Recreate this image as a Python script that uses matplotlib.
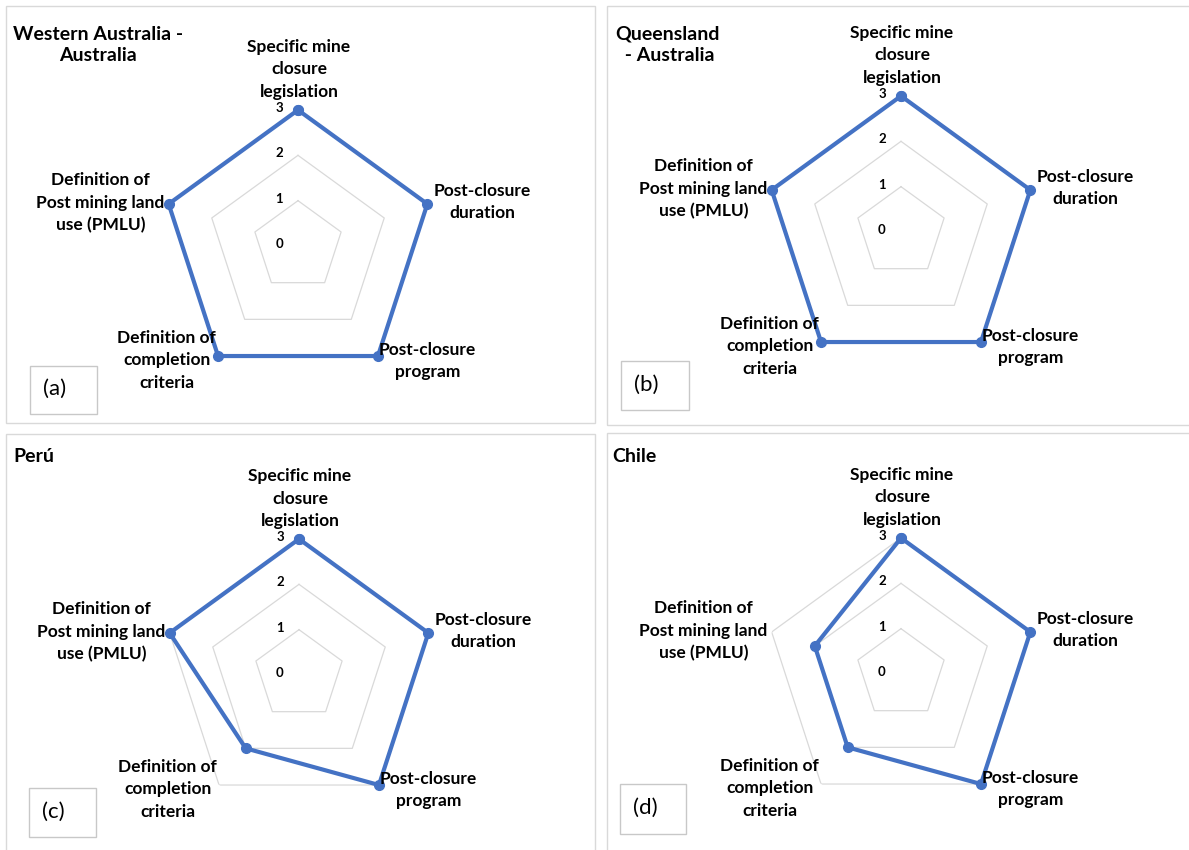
import numpy as np
import matplotlib
matplotlib.use("Agg")
import matplotlib.pyplot as plt
from matplotlib.patches import Rectangle

# ---------------- data ----------------
categories = [
    "Specific mine\nclosure\nlegislation",
    "Post-closure\nduration",
    "Post-closure\nprogram",
    "Definition of\ncompletion\ncriteria",
    "Definition of\nPost mining land\nuse (PMLU)",
]
western_australia = [3, 3, 3, 3, 3]
queensland = [3, 3, 3, 3, 3]
peru = [3, 3, 3, 2, 3]
chile = [3, 3, 3, 2, 2]
radial_ticks = [0, 1, 2, 3]
titles = ["Western Australia -\nAustralia", "Queensland\n - Australia", "Perú", "Chile"]
tags = ["(a)", "(b)", "(c)", "(d)"]
series = [western_australia, queensland, peru, chile]

# ---------------- style / layout ----------------
W, H = 1189, 850
DPI = 100
plt.rcParams['font.family'] = ['Lato', 'DejaVu Sans']
fig = plt.figure(figsize=(W / DPI, H / DPI), dpi=DPI)

LINE_C = '#4472C4'
GRID_C = '#d9d9d9'
BORDER_C = '#d9d9d9'

def fx(px):
    return px / W

def fy(py):
    return 1 - py / H

# panel frames (pixel coords: x0, y0, x1, y1)
panels = [(6, 6, 595, 423), (607, 6, 1200, 425), (6, 434, 595, 860), (607, 433, 1200, 860)]
centers = [(298, 246), (901, 232), (299, 675), (901, 674)]
R = 136
title_pos = [(98, 45, 'center'), (667, 45, 'center'), (13, 456, 'left'), (612, 456, 'left')]
tag_boxes = [(30, 366, 97, 414), (621, 361, 689, 410), (29, 788, 96, 837), (620, 784, 686, 834)]

# label placement relative to outer vertex: (ha, va, dx_px, dy_px) (dy positive = down)
label_style = [
    ('center', 'bottom', 1, -10),
    ('left', 'center', 6, -2),
    ('left', 'center', 1, 5),
    ('right', 'center', -2, 4),
    ('right', 'center', -4, -1),
]

pt = 72.0 / DPI  # px -> points

for i in range(4):
    x0, y0, x1, y1 = panels[i]
    fig.patches.append(Rectangle((fx(x0), fy(y1)), fx(x1 - x0), (y1 - y0) / H,
                                 transform=fig.transFigure, fill=False,
                                 edgecolor=BORDER_C, linewidth=1.0))
    bx0, by0, bx1, by1 = tag_boxes[i]
    fig.patches.append(Rectangle((fx(bx0), fy(by1)), fx(bx1 - bx0), (by1 - by0) / H,
                                 transform=fig.transFigure, fill=False,
                                 edgecolor='#c8c8c8', linewidth=1.0))
    fig.text(fx(bx0 + 13), fy((by0 + by1) / 2 - 1), tags[i], ha='left', va='center',
             fontsize=16, color='black')
    tx, ty, tha = title_pos[i]
    fig.text(fx(tx), fy(ty), titles[i], ha=tha, va='center', multialignment='center',
             fontsize=14, fontweight='bold', color='black', linespacing=1.35)

    cx, cy = centers[i]
    ax = fig.add_axes([fx(cx - R), fy(cy + R), 2 * R / W, 2 * R / H], projection='polar')
    ax.set_theta_offset(np.pi / 2)
    ax.set_theta_direction(-1)
    ax.set_ylim(0, max(radial_ticks))
    ax.grid(False)
    ax.spines['polar'].set_visible(False)
    ax.set_xticks([])
    ax.set_yticks([])
    ax.patch.set_alpha(0)

    n = len(categories)
    angles = np.linspace(0, 2 * np.pi, n, endpoint=False)
    closed = np.concatenate([angles, angles[:1]])
    for t in radial_ticks[1:]:
        ax.plot(closed, [t] * (n + 1), color=GRID_C, linewidth=0.9, zorder=1)
    for t in radial_ticks:
        ax.annotate(str(t), xy=(0, t), xytext=(-19 * pt, 2 * pt), textcoords='offset points',
                    ha='center', va='center', fontsize=9.5, fontweight='bold', color='black')

    vals = list(series[i]) + [series[i][0]]
    ax.plot(closed, vals, color=LINE_C, linewidth=3.0, marker='o', markersize=7,
            zorder=3, clip_on=False)

    for k, lab in enumerate(categories):
        ha, va, dx, dy = label_style[k]
        ax.annotate(lab, xy=(angles[k], max(radial_ticks)), xytext=(dx * pt, -dy * pt),
                    textcoords='offset points', ha=ha, va=va, multialignment='center',
                    fontsize=12.5, fontweight='bold', color='black', linespacing=1.5,
                    annotation_clip=False)

fig.savefig('out.png', dpi=DPI)
